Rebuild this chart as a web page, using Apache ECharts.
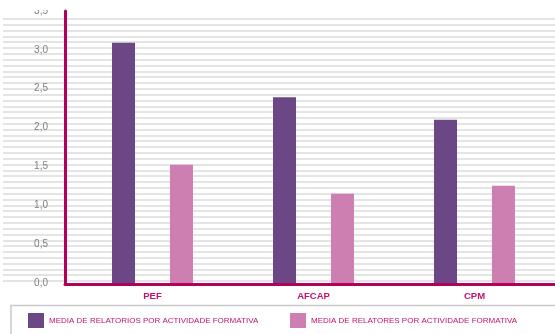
<!DOCTYPE html>
<html>
<head>
<meta charset="utf-8">
<script src="https://cdn.jsdelivr.net/npm/echarts@6/dist/echarts.min.js"></script>
<style>html,body{margin:0;padding:0;background:#fff}#c{width:555px;height:334px}</style>
</head>
<body>
<div id="c"></div>
<script>
var categories = ['PEF', 'AFCAP', 'CPM'];
var seriesNames = ['MEDIA DE RELATORIOS POR ACTIVIDADE FORMATIVA', 'MEDIA DE RELATORES POR ACTIVIDADE FORMATIVA'];
var relatorios = [3.09, 2.39, 2.10];
var relatores = [1.52, 1.15, 1.25];

var AXIS = '#b4005a';
var TEXT_MAG = '#c2126e';
var legendFont = "'Liberation Sans',sans-serif";

var chart = echarts.init(document.getElementById('c'), null, {renderer: 'canvas'});
chart.setOption({
  animation: false,
  backgroundColor: '#fff',
  grid: [
    {left: 72, width: 487, top: 11, bottom: 51},           // bars
    {left: 3, right: 0, top: 18.9, bottom: 52.94},         // background gridlines
    {left: 65, right: -5, top: 11, bottom: 50}             // axis lines
  ],
  xAxis: [
    {type: 'category', gridIndex: 0, data: categories,
     axisLine: {show: false}, axisTick: {show: false},
     axisLabel: {color: TEXT_MAG, fontWeight: 'bold', fontSize: 9.5, fontFamily: 'Liberation Sans', margin: 8}},
    {type: 'value', gridIndex: 1, show: false},
    {type: 'value', gridIndex: 2, min: 0, max: 1,
     axisLine: {show: true, lineStyle: {color: AXIS, width: 3}},
     axisTick: {show: false}, axisLabel: {show: false}, splitLine: {show: false}}
  ],
  yAxis: [
    {type: 'value', gridIndex: 0, min: 0, max: 3.5, interval: 0.5, offset: 7,
     axisLine: {show: false}, axisTick: {show: false}, splitLine: {show: false},
     axisLabel: {color: '#7f7f7f', fontSize: 10, fontFamily: 'Liberation Sans', margin: 17,
       padding: [0, 0, 6, 0],
       formatter: function (v) { return v.toFixed(1).replace('.', ','); }}},
    {type: 'value', gridIndex: 1, min: 0, max: 45, interval: 1,
     axisLine: {show: false}, axisTick: {show: false}, axisLabel: {show: false},
     splitLine: {show: true, lineStyle: {color: '#e4e4e4', width: 2}}},
    {type: 'value', gridIndex: 2, min: 0, max: 1,
     axisLine: {show: true, lineStyle: {color: AXIS, width: 3}},
     axisTick: {show: false}, axisLabel: {show: false}, splitLine: {show: false}}
  ],
  legend: [
    {left: 23, top: 308, icon: 'rect', itemWidth: 16, itemHeight: 15, itemGap: 0,
     data: [seriesNames[0]], textStyle: {color: TEXT_MAG, fontSize: 8, fontFamily: legendFont}},
    {left: 285, top: 308, icon: 'rect', itemWidth: 16, itemHeight: 15, itemGap: 0,
     data: [seriesNames[1]], textStyle: {color: TEXT_MAG, fontSize: 8, fontFamily: legendFont}}
  ],
  graphic: [
    {type: 'rect', shape: {x: 11, y: 305.5, width: 560, height: 40},
     style: {fill: 'none', stroke: '#c9c9c9', lineWidth: 1.5}, z: 100},
    {type: 'rect', shape: {x: 0, y: 0, width: 62, height: 10},
     style: {fill: '#fff'}, z: 100}
  ],
  series: [
    {name: seriesNames[0], type: 'bar', xAxisIndex: 0, yAxisIndex: 0, data: relatorios,
     barWidth: 23, barGap: '152%', itemStyle: {color: '#6b4785'}, z: 5},
    {name: seriesNames[1], type: 'bar', xAxisIndex: 0, yAxisIndex: 0, data: relatores,
     barWidth: 23, barGap: '152%', itemStyle: {color: '#cc7fb0'}, z: 5}
  ]
});
</script>
</body>
</html>
